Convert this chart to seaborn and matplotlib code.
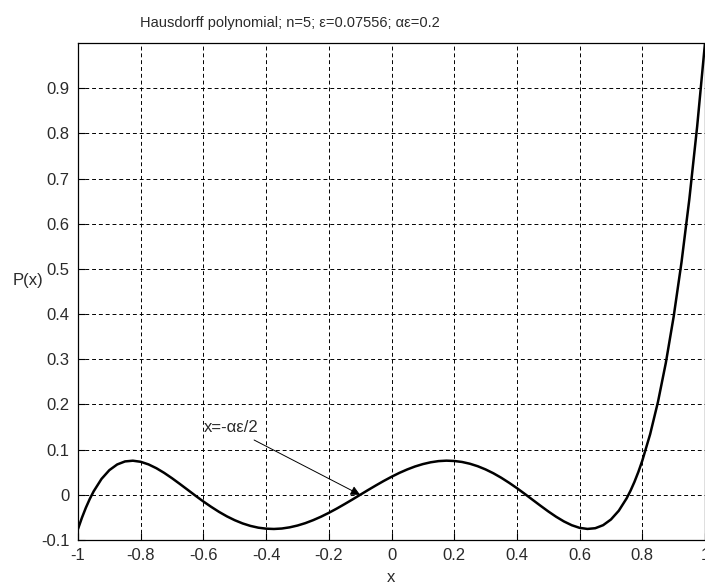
import matplotlib
matplotlib.use("Agg")
import matplotlib.pyplot as plt
import seaborn as sns
import pandas as pd

# Curve samples
x_vals = [-1.0, -0.9875, -0.975, -0.9625, -0.95, -0.925, -0.9, -0.875, -0.85, -0.825,
          -0.8, -0.775, -0.75, -0.725, -0.7, -0.675, -0.65, -0.625, -0.6, -0.575,
          -0.55, -0.525, -0.5, -0.475, -0.45, -0.425, -0.4, -0.375, -0.35, -0.325,
          -0.3, -0.275, -0.25, -0.225, -0.2, -0.175, -0.15, -0.125, -0.1, -0.075,
          -0.05, -0.025, 0.0, 0.025, 0.05, 0.075, 0.1, 0.125, 0.15, 0.175,
          0.2, 0.225, 0.25, 0.275, 0.3, 0.325, 0.35, 0.375, 0.4, 0.425,
          0.45, 0.475, 0.5, 0.525, 0.55, 0.575, 0.6, 0.625, 0.65, 0.675,
          0.7, 0.725, 0.75, 0.7625, 0.775, 0.7875, 0.8, 0.825, 0.85, 0.875,
          0.9, 0.925, 0.95, 0.975, 1.0]
p_vals = [-0.0756, -0.0508, -0.0287, -0.0092, 0.0078, 0.0352, 0.0546, 0.0672, 0.0739, 0.0755,
          0.0731, 0.0673, 0.0589, 0.0485, 0.0367, 0.0240, 0.0110, -0.0021, -0.0148, -0.0267,
          -0.0378, -0.0477, -0.0562, -0.0633, -0.0688, -0.0727, -0.0749, -0.0756, -0.0746, -0.0720,
          -0.0680, -0.0627, -0.0561, -0.0485, -0.0399, -0.0306, -0.0207, -0.0105, 0.0, 0.0105,
          0.0207, 0.0306, 0.0399, 0.0485, 0.0561, 0.0627, 0.0680, 0.0720, 0.0746, 0.0756,
          0.0749, 0.0727, 0.0688, 0.0633, 0.0562, 0.0477, 0.0378, 0.0267, 0.0148, 0.0021,
          -0.0110, -0.0240, -0.0367, -0.0485, -0.0589, -0.0673, -0.0731, -0.0755, -0.0739, -0.0672,
          -0.0546, -0.0352, -0.0078, 0.0092, 0.0287, 0.0508, 0.0756, 0.1341, 0.2057, 0.2919,
          0.3942, 0.5144, 0.6541, 0.8153, 1.0]

x_ticks = [-1, -0.8, -0.6, -0.4, -0.2, 0, 0.2, 0.4, 0.6, 0.8, 1]
x_tick_labels = ["-1", "-0.8", "-0.6", "-0.4", "-0.2", "0", "0.2", "0.4", "0.6", "0.8", "1"]
y_ticks = [-0.1, 0, 0.1, 0.2, 0.3, 0.4, 0.5, 0.6, 0.7, 0.8, 0.9]
y_tick_labels = ["-0.1", "0", "0.1", "0.2", "0.3", "0.4", "0.5", "0.6", "0.7", "0.8", "0.9"]

title_text = "Hausdorff polynomial; n=5; ε=0.07556; αε=0.2"
annot_text = "x=-αε/2"
annot_point = (-0.1, 0.0)
annot_text_pos = (-0.6, 0.148)

sns.set_theme(style="ticks")
plt.rcParams["font.family"] = ["Liberation Sans", "DejaVu Sans"]

df = pd.DataFrame({"x": x_vals, "P": p_vals})

W, H = 705, 584
fig = plt.figure(figsize=(W / 100, H / 100), dpi=100)
fig.patch.set_facecolor("white")
ax = fig.add_axes([78 / W, 1 - 540 / H, (705 - 78) / W, (540 - 43) / H])

sns.lineplot(data=df, x="x", y="P", ax=ax, color="black", linewidth=1.8, sort=False,
             estimator=None)

ax.set_xlim(-1, 1)
ax.set_ylim(-0.1, 1.0)
ax.set_xticks(x_ticks)
ax.set_xticklabels(x_tick_labels)
ax.set_yticks(y_ticks)
ax.set_yticklabels(y_tick_labels)
ax.tick_params(direction="in", length=5, width=0.8, labelsize=12, pad=6,
               colors="black", labelcolor="#2a2a2a")
ax.grid(True, color="black", linestyle=(0, (4, 3)), linewidth=0.7)
for s in ax.spines.values():
    s.set_color("black")
    s.set_linewidth(0.9)
    s.set_visible(True)
ax.set_xlabel("")
ax.set_ylabel("")

fig.text(290 / W, 1 - 23 / H, title_text, ha="center", va="center", fontsize=10.5, color="#2a2a2a")
fig.text(28 / W, 1 - 281 / H, "P(x)", ha="center", va="center", fontsize=12, color="#2a2a2a")
fig.text(391 / W, 1 - 578 / H, "x", ha="center", va="center", fontsize=12, color="#2a2a2a")

ax.annotate(annot_text, xy=annot_point, xytext=annot_text_pos, textcoords="data",
            ha="left", va="center", fontsize=12, color="#2a2a2a",
            arrowprops=dict(arrowstyle="-|>", color="black", lw=0.7,
                            mutation_scale=14, shrinkA=2, shrinkB=0))

fig.savefig("out.png", dpi=100, facecolor="white")
